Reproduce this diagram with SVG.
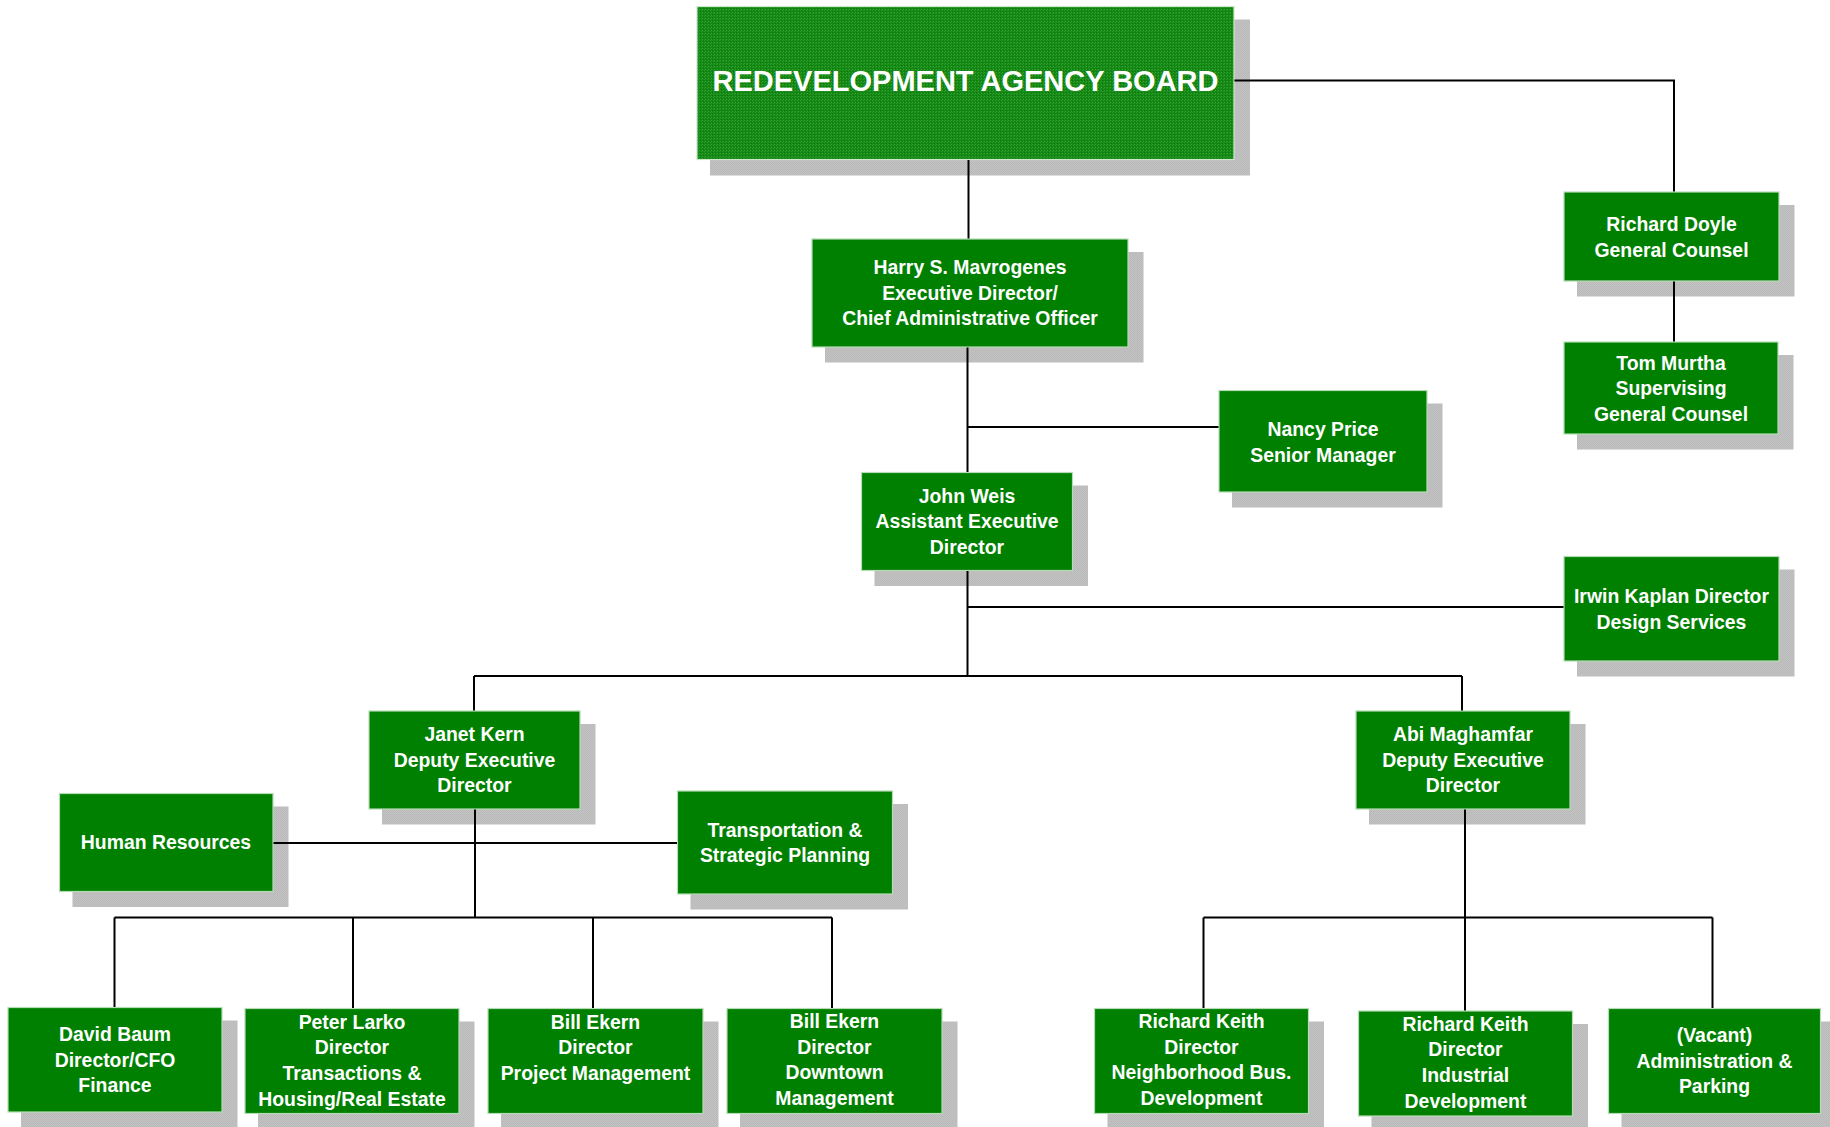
<svg xmlns="http://www.w3.org/2000/svg" width="1830" height="1127" viewBox="0 0 1830 1127">
<defs>
<pattern id="dither" width="3" height="3" patternUnits="userSpaceOnUse">
<rect width="3" height="3" fill="#138813"/>
<rect x="0" y="0" width="1" height="1" fill="#3aa23a"/>
<rect x="2" y="1" width="1" height="1" fill="#2c982c"/>
<rect x="1" y="2" width="1" height="1" fill="#0c7c0c"/>
</pattern>
<pattern id="shade" width="2" height="2" patternUnits="userSpaceOnUse">
<rect width="2" height="2" fill="#c2c2c2"/>
<rect width="1" height="1" fill="#bababa"/>
<rect x="1" y="1" width="1" height="1" fill="#bababa"/>
</pattern>
</defs>
<style>
.sh{fill:url(#shade);}
.bx{fill:#008000;stroke:#b5dcb5;stroke-width:1.2;}
.board{fill:url(#dither);stroke:#c8e8c8;stroke-width:1.2;}
.t{font-family:"Liberation Sans",Arial,sans-serif;font-weight:bold;font-size:19.4px;fill:#ffffff;text-anchor:middle;}
.tb{font-family:"Liberation Sans",Arial,sans-serif;font-weight:bold;font-size:29px;fill:#ffffff;text-anchor:middle;}
.c{fill:none;stroke:#000000;stroke-width:2;}
</style>
<rect width="1830" height="1127" fill="#ffffff"/>
<g id="board">
<rect class="sh" x="710" y="19.5" width="540" height="156"/>
<rect class="board" x="697" y="6.5" width="537" height="153"/>
<text class="tb" x="965.5" y="90.5">REDEVELOPMENT AGENCY BOARD</text>
</g>
<g id="harry">
<rect class="sh" x="825" y="252" width="318.5" height="110.5"/>
<rect class="bx" x="812" y="239" width="316" height="108"/>
<text class="t" x="970" y="274">Harry S. Mavrogenes</text>
<text class="t" x="970" y="299.7">Executive Director/</text>
<text class="t" x="970" y="325.4">Chief Administrative Officer</text>
</g>
<g id="doyle">
<rect class="sh" x="1577" y="205" width="217.5" height="91.5"/>
<rect class="bx" x="1564" y="192" width="215" height="89"/>
<text class="t" x="1671.5" y="231">Richard Doyle</text>
<text class="t" x="1671.5" y="256.7">General Counsel</text>
</g>
<g id="murtha">
<rect class="sh" x="1577" y="355" width="216.5" height="94.5"/>
<rect class="bx" x="1564" y="342" width="214" height="92"/>
<text class="t" x="1671" y="369.5">Tom Murtha</text>
<text class="t" x="1671" y="395.2">Supervising</text>
<text class="t" x="1671" y="420.9">General Counsel</text>
</g>
<g id="nancy">
<rect class="sh" x="1232" y="403.5" width="210.5" height="104"/>
<rect class="bx" x="1219" y="390.5" width="208" height="101.5"/>
<text class="t" x="1323" y="436">Nancy Price</text>
<text class="t" x="1323" y="461.7">Senior Manager</text>
</g>
<g id="weis">
<rect class="sh" x="874.5" y="485.5" width="213.5" height="100.5"/>
<rect class="bx" x="861.5" y="472.5" width="211" height="98"/>
<text class="t" x="967" y="502.5">John Weis</text>
<text class="t" x="967" y="528.2">Assistant Executive</text>
<text class="t" x="967" y="553.9">Director</text>
</g>
<g id="kaplan">
<rect class="sh" x="1577" y="569.5" width="217.5" height="107"/>
<rect class="bx" x="1564" y="556.5" width="215" height="104.5"/>
<text class="t" x="1671.5" y="603">Irwin Kaplan Director</text>
<text class="t" x="1671.5" y="628.7">Design Services</text>
</g>
<g id="kern">
<rect class="sh" x="382" y="724" width="213.5" height="100.5"/>
<rect class="bx" x="369" y="711" width="211" height="98"/>
<text class="t" x="474.5" y="741">Janet Kern</text>
<text class="t" x="474.5" y="766.7">Deputy Executive</text>
<text class="t" x="474.5" y="792.4">Director</text>
</g>
<g id="maghamfar">
<rect class="sh" x="1369" y="724" width="216.5" height="100.5"/>
<rect class="bx" x="1356" y="711" width="214" height="98"/>
<text class="t" x="1463" y="741">Abi Maghamfar</text>
<text class="t" x="1463" y="766.7">Deputy Executive</text>
<text class="t" x="1463" y="792.4">Director</text>
</g>
<g id="hr">
<rect class="sh" x="72.5" y="806.5" width="216" height="100.5"/>
<rect class="bx" x="59.5" y="793.5" width="213.5" height="98"/>
<text class="t" x="166" y="849">Human Resources</text>
</g>
<g id="transport">
<rect class="sh" x="690.5" y="804" width="217.5" height="105.5"/>
<rect class="bx" x="677.5" y="791" width="215" height="103"/>
<text class="t" x="785" y="836.5">Transportation &amp;</text>
<text class="t" x="785" y="862.2">Strategic Planning</text>
</g>
<g id="baum">
<rect class="sh" x="21" y="1020.5" width="216.5" height="107"/>
<rect class="bx" x="8" y="1007.5" width="214" height="104.5"/>
<text class="t" x="115" y="1041">David Baum</text>
<text class="t" x="115" y="1066.7">Director/CFO</text>
<text class="t" x="115" y="1092.4">Finance</text>
</g>
<g id="larko">
<rect class="sh" x="258" y="1021.5" width="216.5" height="107.5"/>
<rect class="bx" x="245" y="1008.5" width="214" height="105"/>
<text class="t" x="352" y="1028.5">Peter Larko</text>
<text class="t" x="352" y="1054.2">Director</text>
<text class="t" x="352" y="1079.9">Transactions &amp;</text>
<text class="t" x="352" y="1105.6">Housing/Real Estate</text>
</g>
<g id="ekern-pm">
<rect class="sh" x="501" y="1021.5" width="217.5" height="107.5"/>
<rect class="bx" x="488" y="1008.5" width="215" height="105"/>
<text class="t" x="595.5" y="1028.5">Bill Ekern</text>
<text class="t" x="595.5" y="1054.2">Director</text>
<text class="t" x="595.5" y="1079.9">Project Management</text>
</g>
<g id="ekern-dm">
<rect class="sh" x="740" y="1021.5" width="217.5" height="107.5"/>
<rect class="bx" x="727" y="1008.5" width="215" height="105"/>
<text class="t" x="834.5" y="1028">Bill Ekern</text>
<text class="t" x="834.5" y="1053.7">Director</text>
<text class="t" x="834.5" y="1079.4">Downtown</text>
<text class="t" x="834.5" y="1105.1">Management</text>
</g>
<g id="keith-nbd">
<rect class="sh" x="1107.5" y="1021.5" width="216.5" height="107.5"/>
<rect class="bx" x="1094.5" y="1008.5" width="214" height="105"/>
<text class="t" x="1201.5" y="1028">Richard Keith</text>
<text class="t" x="1201.5" y="1053.7">Director</text>
<text class="t" x="1201.5" y="1079.4">Neighborhood Bus.</text>
<text class="t" x="1201.5" y="1105.1">Development</text>
</g>
<g id="keith-id">
<rect class="sh" x="1371.5" y="1024" width="216.5" height="107.5"/>
<rect class="bx" x="1358.5" y="1011" width="214" height="105"/>
<text class="t" x="1465.5" y="1030.5">Richard Keith</text>
<text class="t" x="1465.5" y="1056.2">Director</text>
<text class="t" x="1465.5" y="1081.9">Industrial</text>
<text class="t" x="1465.5" y="1107.6">Development</text>
</g>
<g id="vacant">
<rect class="sh" x="1621.5" y="1021.5" width="214.5" height="107.5"/>
<rect class="bx" x="1608.5" y="1008.5" width="212" height="105"/>
<text class="t" x="1714.5" y="1042">(Vacant)</text>
<text class="t" x="1714.5" y="1067.7">Administration &amp;</text>
<text class="t" x="1714.5" y="1093.4">Parking</text>
</g>
<g id="connectors">
<path class="c" d="M1234.5 80.5 H1674 V191.5"/>
<path class="c" d="M1674 281.5 V341.5"/>
<path class="c" d="M968.5 160 V238.5"/>
<path class="c" d="M967.5 347.5 V472"/>
<path class="c" d="M967.5 427 H1218.5"/>
<path class="c" d="M967.5 571 V676"/>
<path class="c" d="M967.5 607 H1563.5"/>
<path class="c" d="M474 676 H1462"/>
<path class="c" d="M474 676 V710.5"/>
<path class="c" d="M1462 676 V710.5"/>
<path class="c" d="M475 809.5 V917.5"/>
<path class="c" d="M273.5 843 H677"/>
<path class="c" d="M114.5 917.5 H832"/>
<path class="c" d="M114.5 917.5 V1007"/>
<path class="c" d="M353 917.5 V1008"/>
<path class="c" d="M593 917.5 V1008"/>
<path class="c" d="M832 917.5 V1008"/>
<path class="c" d="M1465 809.5 V1010.5"/>
<path class="c" d="M1203.5 917.5 H1712.5"/>
<path class="c" d="M1203.5 917.5 V1008"/>
<path class="c" d="M1712.5 917.5 V1008"/>
</g>
</svg>
